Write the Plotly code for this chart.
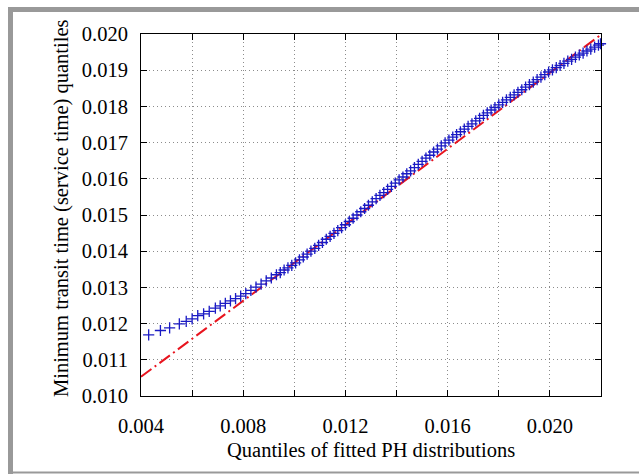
import plotly.graph_objects as go

# ---- data ----
fitted_q = [0.0043, 0.00476, 0.00512, 0.0055, 0.00577, 0.0060, 0.00622, 0.00645, 0.00667, 0.00691,
            0.0071, 0.0073, 0.0075, 0.0077, 0.0079, 0.0081, 0.0083, 0.0085, 0.0087, 0.0089,
            0.0091, 0.0093, 0.00945, 0.0096, 0.00975, 0.0099, 0.01005, 0.0102, 0.01035, 0.0105,
            0.01065, 0.0108, 0.01095, 0.0111, 0.01125, 0.0114, 0.01155, 0.0117, 0.01185, 0.0120,
            0.01215, 0.0123, 0.01245, 0.0126, 0.01275, 0.0129, 0.01305, 0.0132, 0.01335, 0.0135,
            0.01365, 0.0138, 0.01395, 0.0141, 0.01425, 0.0144, 0.01455, 0.0147, 0.01485, 0.0150,
            0.01515, 0.0153, 0.01545, 0.0156, 0.01575, 0.0159, 0.01605, 0.0162, 0.01635, 0.0165,
            0.01665, 0.0168, 0.01695, 0.0171, 0.01725, 0.0174, 0.01755, 0.0177, 0.01785, 0.0180,
            0.01815, 0.0183, 0.01845, 0.0186, 0.01875, 0.0189, 0.01905, 0.0192, 0.01935, 0.0195,
            0.01965, 0.0198, 0.01995, 0.0201, 0.02025, 0.0204, 0.02055, 0.0207, 0.02085, 0.0210,
            0.02115, 0.0213, 0.02145, 0.0216, 0.02175, 0.0219, 0.02198]
transit_q = [0.01169, 0.01181, 0.01188, 0.01199, 0.01206, 0.01213, 0.01222, 0.01227, 0.01234, 0.01243,
             0.01249, 0.01256, 0.01263, 0.01269, 0.01276, 0.01283, 0.01292, 0.01301, 0.01309, 0.01318,
             0.01326, 0.01335, 0.01341, 0.01348, 0.01354, 0.01361, 0.01368, 0.01376, 0.01384, 0.01392,
             0.01400, 0.01408, 0.01416, 0.01424, 0.01433, 0.01441, 0.01449, 0.01457, 0.01465, 0.01473,
             0.01482, 0.01491, 0.01500, 0.01509, 0.01518, 0.01527, 0.01536, 0.01545, 0.01554, 0.01562,
             0.01571, 0.01579, 0.01588, 0.01597, 0.01605, 0.01614, 0.01622, 0.01631, 0.01640, 0.01648,
             0.01657, 0.01665, 0.01674, 0.01682, 0.01691, 0.01699, 0.01707, 0.01715, 0.01722, 0.01730,
             0.01737, 0.01745, 0.01752, 0.01760, 0.01767, 0.01775, 0.01782, 0.01790, 0.01797, 0.01804,
             0.01811, 0.01818, 0.01825, 0.01832, 0.01839, 0.01846, 0.01853, 0.01860, 0.01867, 0.01874,
             0.01881, 0.01888, 0.01895, 0.01901, 0.01907, 0.01913, 0.01919, 0.01925, 0.01930, 0.01936,
             0.01942, 0.01947, 0.01953, 0.01958, 0.01964, 0.01969, 0.01973]
ref_line_x = [0.004, 0.022]
ref_line_y = [0.01053, 0.01998]

x_title = "Quantiles of fitted PH distributions"
y_title = "Minimum transit time (service time) quantiles"

FONT = "Liberation Serif"
FS = 20.5

# plot-area geometry in pixels
W_PX, H_PX = 639, 474
L, R, T, B = 141, 38, 34, 78
PW, PH = W_PX - L - R, H_PX - T - B


def px(xp):
    return (xp - L) / PW


def py(yp):
    return 1 - (yp - T) / PH


fig = go.Figure()
fig.add_trace(go.Scatter(
    x=ref_line_x, y=ref_line_y, mode="lines",
    line=dict(color="#e8141e", width=2, dash="13px,4px,2px,4px"),
    showlegend=False, hoverinfo="skip"))
fig.add_trace(go.Scatter(
    x=fitted_q, y=transit_q, mode="markers", cliponaxis=False,
    marker=dict(symbol="cross-thin", size=8, line=dict(color="#1a1ac4", width=1.3)),
    showlegend=False))

GRID_COL = "#8c8c8c"
GRID_DASH = "1px,3px"
fig.update_xaxes(range=[0.004, 0.022], tick0=0.004, dtick=0.004, tickformat=".3f",
                 ticks="inside", ticklen=6, tickcolor="black",
                 showline=True, linecolor="black", linewidth=1, mirror="ticks",
                 zeroline=False, ticklabelstandoff=11,
                 showgrid=True, gridcolor=GRID_COL, gridwidth=1, griddash=GRID_DASH,
                 minor=dict(dtick=0.002, tick0=0.004, ticks="inside", ticklen=6,
                            tickcolor="black", showgrid=True, gridcolor=GRID_COL,
                            griddash=GRID_DASH, gridwidth=1),
                 tickfont=dict(family=FONT, size=FS, color="black"))
fig.update_yaxes(range=[0.010, 0.020], tick0=0.010, dtick=0.001, tickformat=".3f",
                 ticks="inside", ticklen=6, tickcolor="black",
                 showline=True, linecolor="black", linewidth=1, mirror="ticks",
                 zeroline=False, ticklabelstandoff=8,
                 showgrid=True, gridcolor=GRID_COL, gridwidth=1, griddash=GRID_DASH,
                 tickfont=dict(family=FONT, size=FS, color="black"))

fig.add_annotation(text=x_title, xref="paper", yref="paper",
                   x=0.5, y=py(450), xanchor="center", yanchor="middle",
                   showarrow=False, font=dict(family=FONT, size=FS, color="black"))
fig.add_annotation(text=y_title, xref="paper", yref="paper",
                   x=px(62), y=py(209), xanchor="center", yanchor="middle", textangle=-90,
                   showarrow=False, font=dict(family=FONT, size=FS, color="black"))

frame_col = "#999999"
fig.add_shape(type="rect", xref="paper", yref="paper", x0=px(8), x1=px(639), y0=py(12), y1=py(7),
              fillcolor=frame_col, line=dict(width=0))
fig.add_shape(type="rect", xref="paper", yref="paper", x0=px(8), x1=px(13), y0=py(474), y1=py(7),
              fillcolor=frame_col, line=dict(width=0))
fig.add_shape(type="rect", xref="paper", yref="paper", x0=px(8), x1=px(639), y0=py(473.5), y1=py(471.5),
              fillcolor=frame_col, line=dict(width=0))

fig.update_layout(width=W_PX, height=H_PX, margin=dict(l=L, r=R, t=T, b=B),
                  paper_bgcolor="white", plot_bgcolor="white",
                  font=dict(family=FONT, size=FS, color="black"))

fig.write_html("out.html")
